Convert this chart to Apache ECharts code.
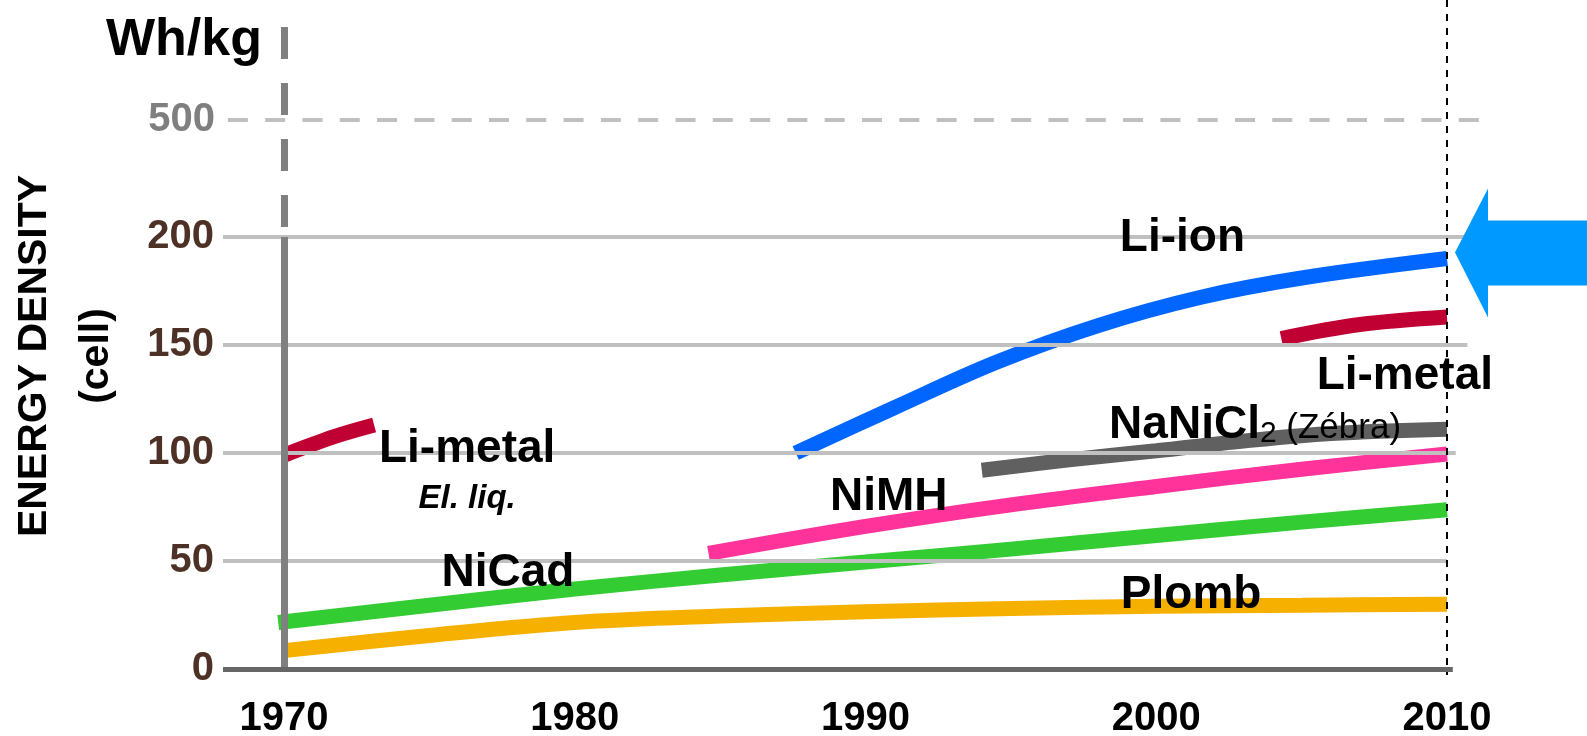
<!DOCTYPE html>
<html><head><meta charset="utf-8">
<script src="https://cdn.jsdelivr.net/npm/echarts@6/dist/echarts.min.js"></script>
<style>html,body{margin:0;padding:0;background:#fff}#c{width:1587px;height:736px}</style>
</head><body><div id="c"></div>
<script>
const FONT = "'Liberation Sans', Arial, Helvetica, sans-serif";

// ---- tick labels ----
const yearTicks = [1970, 1980, 1990, 2000, 2010];
const valueTicks = [0, 50, 100, 150, 200];
const brokenTickLabel = '500';

// ---- series values [year, Wh/kg] ----
const liMetalEarly = [[1970, 99], [1971.7, 107.5], [1973.1, 113]];
const liIon = [[1987.6, 100], [1991, 121], [1994.5, 142], [1998, 159], [2001.5, 172], [2005, 181], [2010, 190]];
const liMetalLate = [[2004.3, 153], [2007, 159.5], [2010, 163]];
const naNiCl2 = [[1994, 92], [1997, 96.8], [2000, 101], [2003, 105.5], [2006, 109], [2010, 111]];
const niMH = [[1984.6, 53.5], [1990, 66], [1995, 76], [2000, 84.5], [2005, 92.5], [2010, 99.5]];
const niCad = [[1969.8, 21.5], [1975, 29.5], [1980, 37], [1985, 43.5], [1990, 49.5], [1995, 55.5], [2000, 61.8], [2005, 68], [2010, 73.7]];
const plomb = [[1970, 8.5], [1975, 15.5], [1980, 21.5], [1985, 24.5], [1990, 26.5], [1995, 28], [2000, 29], [2005, 29.5], [2010, 30]];

// ---- series names / label anchors ----
const labelNames = ['Li-ion', 'Li-metal', 'NaNiCl2', 'NiMH', 'NiCad', 'Plomb', 'Li-metal', 'El. liq.'];
const labelAnchors = [[2000.9, 199.5], [2008.55, 135.4], [2003.4, 112.6], [1990.8, 79.7], [1977.7, 44.5], [2001.2, 34], [1976.3, 101.9], [1976.3, 78.6]];

const X_MIN = 1967.902, X_MAX = 2011.204, Y_MAX = 297.2, Y_BREAK_POS = 254.2;

const chart = echarts.init(document.getElementById('c'), null, {renderer: 'canvas'});

const shadow = {textShadowColor: '#c4c4c4', textShadowOffsetX: 2, textShadowOffsetY: 2, textShadowBlur: 0,
                textBorderWidth: 0, textBorderColor: 'transparent', opacity: 1};

function curve(name, data, color, z) {
  return {
    name, type: 'line', data, smooth: 0.35, showSymbol: false, symbol: 'none', silent: true, z: z || 3,
    lineStyle: {color, width: 15, cap: 'butt'}
  };
}

function markSeries(z, lines) {
  return {
    type: 'line', data: [[1970, 0]], showSymbol: false, symbol: 'none', silent: true, z, clip: false,
    lineStyle: {opacity: 0},
    markLine: {symbol: ['none', 'none'], silent: true, animation: false, label: {show: false}, data: lines}
  };
}

const gridColor = '#c0c0c0';
const gridEnds = {50: 2010.0, 100: 2010.3, 150: 2010.7, 200: 2011.0};
const gridLines = valueTicks.filter(v => v > 0).map(v => [
  {coord: [X_MIN, v], lineStyle: {color: gridColor, width: 4, type: 'solid'}},
  {coord: [gridEnds[v], v]}
]);
gridLines.push([
  {coord: [1968.07, Y_BREAK_POS], lineStyle: {color: gridColor, width: 4, type: [20, 17.3]},
   label: {show: true, position: 'start', distance: 13, formatter: brokenTickLabel, color: '#7f7f7f',
           fontSize: 40, fontWeight: 'bold', fontFamily: FONT}},
  {coord: [X_MAX, Y_BREAK_POS]}
]);

const axisLines = [
  [{coord: [1970, 0], lineStyle: {color: '#808080', width: 7, type: 'solid'}}, {coord: [1970, 200]}],
  [{coord: [1970, Y_MAX], lineStyle: {color: '#808080', width: 7, type: [32, 24]}}, {coord: [1970, 200]}],
  [{coord: [X_MIN, 0], lineStyle: {color: '#666666', width: 5, type: 'solid'}}, {coord: [2010.2, 0]}]
];

const bigLabel = {fontSize: 46, fontWeight: 'bold', fontFamily: FONT, color: '#000'};
const labelData = labelAnchors.map((p, i) => {
  const name = labelNames[i];
  let lab;
  if (name === 'NaNiCl2') {
    lab = Object.assign({
      formatter: '{a|NaNiCl}{s|2}{b| (Zébra)}', color: '#000',
      rich: {
        a: Object.assign({}, bigLabel, shadow, {verticalAlign: 'bottom'}),
        s: Object.assign({fontSize: 30, fontFamily: FONT, color: '#000', verticalAlign: 'bottom'}, shadow),
        b: Object.assign({fontSize: 35, fontFamily: FONT, color: '#000', verticalAlign: 'bottom', padding: [0, 0, 3, 0]}, shadow)
      }
    }, shadow);
  } else if (name === 'El. liq.') {
    lab = Object.assign({formatter: name, fontSize: 33, fontWeight: 'bold', fontStyle: 'italic', fontFamily: FONT, color: '#000'}, shadow);
  } else {
    lab = Object.assign({formatter: name}, bigLabel, shadow);
  }
  return {value: p, label: Object.assign({show: true, position: 'inside'}, lab)};
});

chart.setOption({
  animation: false,
  backgroundColor: '#fff',
  grid: {left: 223, right: 1587 - 1482, top: 27, bottom: 736 - 669, containLabel: false, outerBoundsMode: 'none'},
  xAxis: {
    type: 'value', min: X_MIN, max: X_MAX,
    axisLine: {show: false}, axisTick: {show: false}, splitLine: {show: false},
    axisLabel: {
      customValues: yearTicks, formatter: v => (Math.abs(v % 10) < 1e-6 ? String(Math.round(v)) : ''),
      color: '#000', fontSize: 40, fontWeight: 'bold', fontFamily: FONT, margin: 30
    }
  },
  yAxis: {
    type: 'value', min: 0, max: Y_MAX, interval: 50,
    axisLine: {show: false}, axisTick: {show: false}, splitLine: {show: false},
    axisLabel: {
      customValues: valueTicks, formatter: v => (v <= 200 ? String(v) : ''),
      color: '#4d3026', fontSize: 40, fontWeight: 'bold', fontFamily: FONT, margin: 9
    }
  },
  series: [
    markSeries(1, gridLines),
    markSeries(2, axisLines),
    curve('Plomb', plomb, '#f6b000'),
    curve('NiCad', niCad, '#33cc33'),
    curve('NiMH', niMH, '#ff3399'),
    curve('NaNiCl2', naNiCl2, '#606060'),
    curve('Li-ion', liIon, '#0066ff'),
    curve('Li-metal (El. liq.)', liMetalEarly, '#c00033'),
    curve('Li-metal', liMetalLate, '#c00033'),
    {type: 'scatter', symbolSize: 0, silent: true, z: 7, data: labelData, itemStyle: {color: '#000', opacity: 1}}
  ]
});

// arrow pointing to the Li-ion end value, 2010 reference line, titles
const tip = chart.convertToPixel({gridIndex: 0}, liIon[liIon.length - 1]);
const x2010 = chart.convertToPixel({xAxisIndex: 0}, 2010);
const tx = tip[0] + 8, ty = tip[1] - 6;
chart.setOption({
  graphic: [
    {type: 'line', silent: true, z: 9,
     shape: {x1: x2010, y1: 0, x2: x2010, y2: 675},
     style: {stroke: '#000', lineWidth: 2, lineDash: [7, 7]}},
    {type: 'polygon', silent: true, z: 10,
     shape: {points: [[tx, ty], [tx + 33, ty - 64], [tx + 33, ty - 32], [1587, ty - 32], [1587, ty + 33], [tx + 33, ty + 33], [tx + 33, ty + 65]]},
     style: {fill: '#0099ff'}},
    {type: 'text', x: 106, y: 41, silent: true, z: 10,
     style: {text: 'Wh/kg', font: 'bold 52px ' + FONT, fill: '#000', textAlign: 'left', textVerticalAlign: 'middle', align: 'left', verticalAlign: 'middle'}},
    {type: 'text', x: 66, y: 356, rotation: Math.PI / 2, silent: true, z: 10,
     style: {text: 'ENERGY DENSITY\n(cell)', font: 'bold 41px ' + FONT, lineHeight: 62, fill: '#000',
             textAlign: 'center', textVerticalAlign: 'middle', align: 'center', verticalAlign: 'middle'}}
  ]
});
</script>
</body></html>
